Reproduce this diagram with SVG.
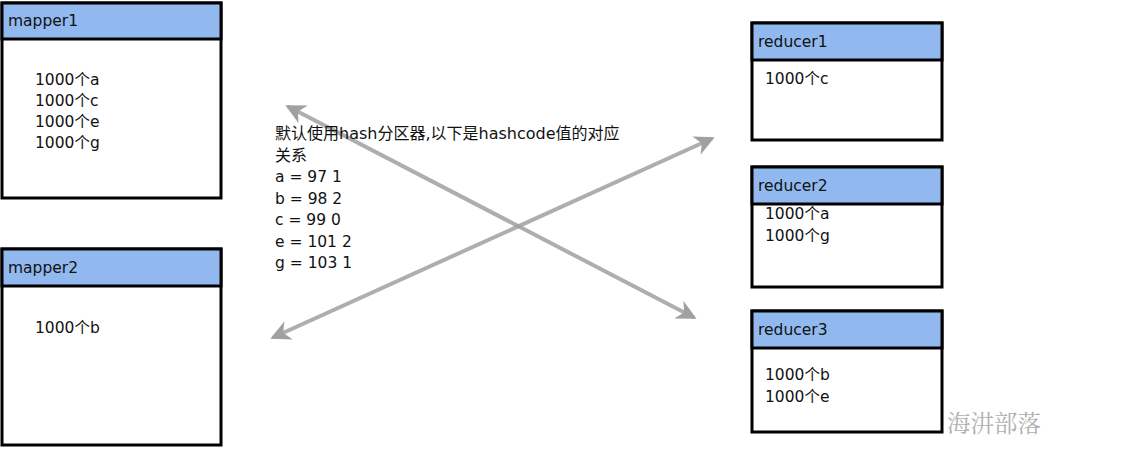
<svg xmlns="http://www.w3.org/2000/svg" width="1142" height="472" viewBox="0 0 1142 472">
<defs>
<style>
.box{fill:#fff;stroke:#000;stroke-width:3}
.hdr{fill:#92b9ef;stroke:#000;stroke-width:3}
.t{font-family:"DejaVu Sans","Noto Sans CJK SC",sans-serif;font-size:15.5px;fill:#111}
.n{font-size:16px}
.conn{stroke:#a0a0a0;stroke-width:4;stroke-opacity:0.85;fill:none;stroke-linecap:round}
.wm{font-family:"Noto Serif CJK SC","Noto Sans CJK SC",serif;font-size:23.5px;fill:#b0b0b0}
</style>
<marker id="ah" viewBox="0 0 10 10" refX="8" refY="5" markerWidth="5" markerHeight="5" orient="auto-start-reverse" markerUnits="strokeWidth">
<path d="M0,0 L10,5 L0,10 L3,5 Z" fill="#a0a0a0"/>
</marker>
</defs>
<rect width="1142" height="472" fill="#fff"/>
<g id="connectors">
<line class="conn" x1="289" y1="107" x2="693" y2="317" marker-start="url(#ah)" marker-end="url(#ah)"/>
<line class="conn" x1="274" y1="337" x2="711" y2="139" marker-start="url(#ah)" marker-end="url(#ah)"/>
</g>
<g id="mapper1">
<rect class="box" x="2" y="3" width="219" height="195"/>
<rect class="hdr" x="2" y="3" width="219" height="36"/>
<text class="t" x="8" y="26">mapper1</text>
<text class="t" x="35" y="85">1000个a</text>
<text class="t" x="35" y="106">1000个c</text>
<text class="t" x="35" y="127">1000个e</text>
<text class="t" x="35" y="148">1000个g</text>
</g>
<g id="mapper2">
<rect class="box" x="2" y="249" width="219" height="196"/>
<rect class="hdr" x="2" y="249" width="219" height="37"/>
<text class="t" x="8" y="273">mapper2</text>
<text class="t" x="35" y="333">1000个b</text>
</g>
<g id="note">
<text class="t n" x="275" y="139">默认使用hash分区器,以下是hashcode值的对应</text>
<text class="t n" x="275" y="161">关系</text>
<text class="t" x="275" y="182">a = 97 1</text>
<text class="t" x="275" y="204">b = 98 2</text>
<text class="t" x="275" y="225">c = 99 0</text>
<text class="t" x="275" y="247">e = 101 2</text>
<text class="t" x="275" y="268">g = 103 1</text>
</g>
<g id="reducer1">
<rect class="box" x="752" y="23" width="190" height="117"/>
<rect class="hdr" x="752" y="23" width="190" height="37"/>
<text class="t" x="758" y="47">reducer1</text>
<text class="t" x="765" y="84">1000个c</text>
</g>
<g id="reducer2">
<rect class="box" x="752" y="167" width="190" height="120"/>
<rect class="hdr" x="752" y="167" width="190" height="37"/>
<text class="t" x="758" y="191">reducer2</text>
<text class="t" x="765" y="219">1000个a</text>
<text class="t" x="765" y="241">1000个g</text>
</g>
<g id="reducer3">
<rect class="box" x="752" y="311" width="190" height="121"/>
<rect class="hdr" x="752" y="311" width="190" height="37"/>
<text class="t" x="758" y="335">reducer3</text>
<text class="t" x="765" y="380">1000个b</text>
<text class="t" x="765" y="402">1000个e</text>
</g>
<text class="wm" x="947" y="432">海汫部落</text>
</svg>
